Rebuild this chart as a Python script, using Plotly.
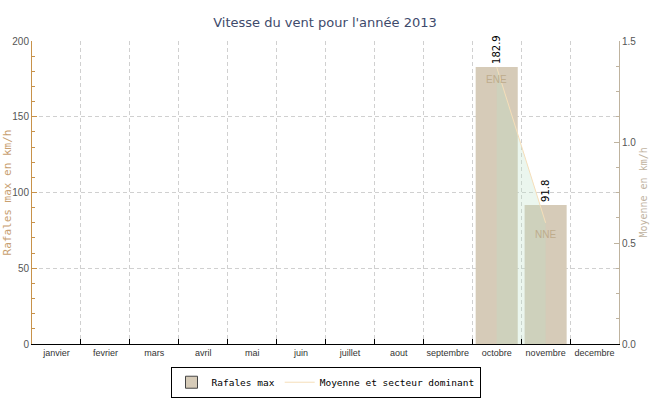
import plotly.graph_objects as go

months = ["janvier", "fevrier", "mars", "avril", "mai", "juin", "juillet",
          "aout", "septembre", "octobre", "novembre", "decembre"]
rafales_max = [None, None, None, None, None, None, None, None, None, 182.9, 91.8, None]
moyenne = [None, None, None, None, None, None, None, None, None, 1.37, 0.6, None]
secteur = ["", "", "", "", "", "", "", "", "", "ENE", "NNE", ""]

mono = "DejaVu Sans Mono"
sans = "Liberation Sans"
line_col = "rgb(245,222,185)"
bar_col = "rgb(214,203,184)"

fig = go.Figure()
fig.add_trace(go.Bar(
    x=months, y=rafales_max, name="Rafales max", showlegend=False,
    marker=dict(color=bar_col, line=dict(width=0)),
    text=[f"{v}" if v is not None else "" for v in rafales_max],
    textposition="outside", textangle=-90,
    textfont=dict(family="DejaVu Sans", size=10, color="black"),
    cliponaxis=False, yaxis="y",
))
# legend entry for bars (with the outlined swatch seen in the reference)
fig.add_trace(go.Bar(
    x=[None], y=[None], name="Rafales max",
    marker=dict(color=bar_col, line=dict(width=1, color="#444444")), yaxis="y",
))
fig.add_trace(go.Scatter(
    x=months, y=moyenne, name="Moyenne et secteur dominant",
    mode="lines", line=dict(color=line_col, width=1),
    fill="tozeroy", fillcolor="rgba(190,225,200,0.30)",
    connectgaps=False, yaxis="y2", showlegend=False,
))
fig.add_trace(go.Scatter(
    x=[None], y=[None], name="Moyenne et secteur dominant",
    mode="lines", line=dict(color=line_col, width=1), yaxis="y2",
))

annotations = [
    dict(text="Rafales max en km/h", xref="paper", yref="paper", x=-0.041, y=0.5,
         textangle=-90, showarrow=False, xanchor="center", yanchor="middle",
         font=dict(family=mono, size=11, color="#C8A070")),
    dict(text="Moyenne en km/h", xref="paper", yref="paper", x=1.041, y=0.5,
         textangle=-90, showarrow=False, xanchor="center", yanchor="middle",
         font=dict(family=mono, size=10, color="#BFB39F")),
]
for m, v, s in zip(months, moyenne, secteur):
    if v is not None and s:
        annotations.append(dict(text=s, x=m, y=v, xref="x", yref="y2",
                                showarrow=False, yanchor="middle", yshift=-12,
                                font=dict(family=sans, size=10, color="rgb(190,172,140)")))

fig.update_layout(
    width=650, height=400,
    margin=dict(l=32, r=31, t=41, b=56, autoexpand=False),
    paper_bgcolor="white", plot_bgcolor="white",
    title=dict(text="Vitesse du vent pour l'année 2013", x=0.5, xanchor="center",
               y=0.945, yanchor="middle", automargin=False,
               font=dict(family="DejaVu Sans", size=13, color="#3E4A6B")),
    barmode="overlay",
    bargap=0.14,
    showlegend=True,
    legend=dict(orientation="h", x=0.5, xanchor="center", y=-0.075, yanchor="top",
                bordercolor="black", borderwidth=1, itemwidth=30,
                font=dict(family=mono, size=9.5, color="black")),
    xaxis=dict(type="category", tickson="boundaries", ticks="inside", ticklen=5,
               tickcolor="black", showline=True, linecolor="black", linewidth=1,
               showgrid=True, gridcolor="#D0D0D0", griddash="4px,3px",
               tickangle=0, automargin=False,
               tickfont=dict(family=sans, size=9, color="#333333")),
    yaxis=dict(range=[0, 200], dtick=50, ticks="inside", ticklen=5,
               tickcolor="#C8924A", showline=True, linecolor="#C8924A",
               showgrid=True, gridcolor="#D0D0D0", griddash="4px,3px", zeroline=False,
               automargin=False,
               minor=dict(ticks="inside", ticklen=3, dtick=10, tickcolor="#C8924A",
                          showgrid=False),
               tickfont=dict(family=sans, size=10, color="#555555")),
    yaxis2=dict(range=[0, 1.5], dtick=0.5, tickformat=".1f", overlaying="y",
                side="right", ticks="inside", ticklen=5, tickcolor="#BFB39F",
                showline=True, linecolor="#BFB39F", showgrid=False, zeroline=False,
                automargin=False,
                minor=dict(ticks="inside", ticklen=3, dtick=0.125, tickcolor="#BFB39F",
                           showgrid=False),
                tickfont=dict(family=sans, size=10, color="#555555")),
    annotations=annotations,
)

fig.write_html("out.html", config={"displayModeBar": False},
               post_script="document.body.style.margin='0';document.body.style.overflow='hidden';")
